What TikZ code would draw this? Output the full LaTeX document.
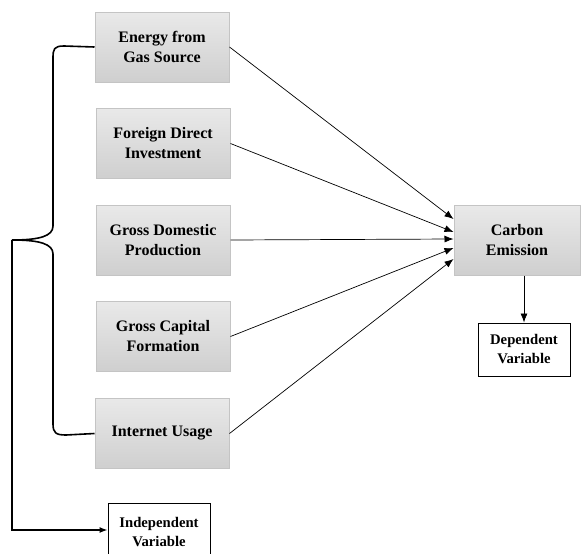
\documentclass[tikz,border=0pt]{standalone}
\usepackage{fontspec}
\setmainfont{Liberation Serif}
\usetikzlibrary{arrows.meta}
\definecolor{boxborder}{HTML}{C4C4C4}
\definecolor{boxtop}{HTML}{E9E9E9}
\definecolor{boxbot}{HTML}{CFCFCF}
\begin{document}
\begin{tikzpicture}[x=1pt,y=-1pt,
  graybox/.style={draw=boxborder, line width=1pt, top color=boxtop, bottom color=boxbot,
    minimum width=134pt, minimum height=70pt, inner sep=0pt, align=center,
    font=\fontsize{16}{20}\selectfont\bfseries},
  whitebox/.style={draw=black, line width=1pt, fill=white, inner sep=0pt, align=center,
    font=\fontsize{14.7}{19}\selectfont\bfseries},
  conn/.style={line width=0.7pt, -{Latex[length=9pt,width=7pt]}},
  bracestyle/.style={line width=1.6pt, line join=round},
  lead/.style={line width=1.3pt, -{Latex[length=8pt,width=6pt]}}
]
\useasboundingbox (0,0) rectangle (581,554);

\node[graybox] (E) at (162,47) {Energy from\\Gas Source};
\node[graybox] (F) at (163,143.5) {Foreign Direct\\Investment};
\node[graybox] (G) at (163,240) {Gross Domestic\\Production};
\node[graybox] (K) at (163,336.5) {Gross Capital\\Formation};
\node[graybox] (I) at (162,433.5) {Internet Usage};
\node[graybox, minimum width=126pt] (C) at (517,240) {Carbon\\Emission};

\node[whitebox, minimum width=92pt, minimum height=53pt] (D) at (524,349.5) {Dependent\\Variable};
\node[whitebox, minimum width=102pt, minimum height=58pt] (IV) at (159,532) {Independent\\Variable};

\draw[conn] (E.east) -- ([yshift=21pt]C.west);
\draw[conn] (F.east) -- ([yshift=8pt]C.west);
\draw[conn] (G.east) -- ([yshift=1pt]C.west);
\draw[conn] (K.east) -- ([yshift=-8pt]C.west);
\draw[conn] (I.east) -- ([yshift=-19pt]C.west);

\draw[conn] (D.north |- C.south) -- (D.north);

\coordinate (tip) at (12,240);
\draw[bracestyle] (E.west) -- (64,46) .. controls (54,46) and (53,49) .. (53,58)
  -- (53,226) .. controls (53,236) and (40,240) .. (tip);
\draw[bracestyle] (tip) .. controls (40,240) and (53,244) .. (53,254)
  -- (53,424) .. controls (53,433) and (56,435) .. (66,435) -- (I.west);

\draw[lead] (tip) |- ([yshift=2pt]IV.west);
\end{tikzpicture}
\end{document}
